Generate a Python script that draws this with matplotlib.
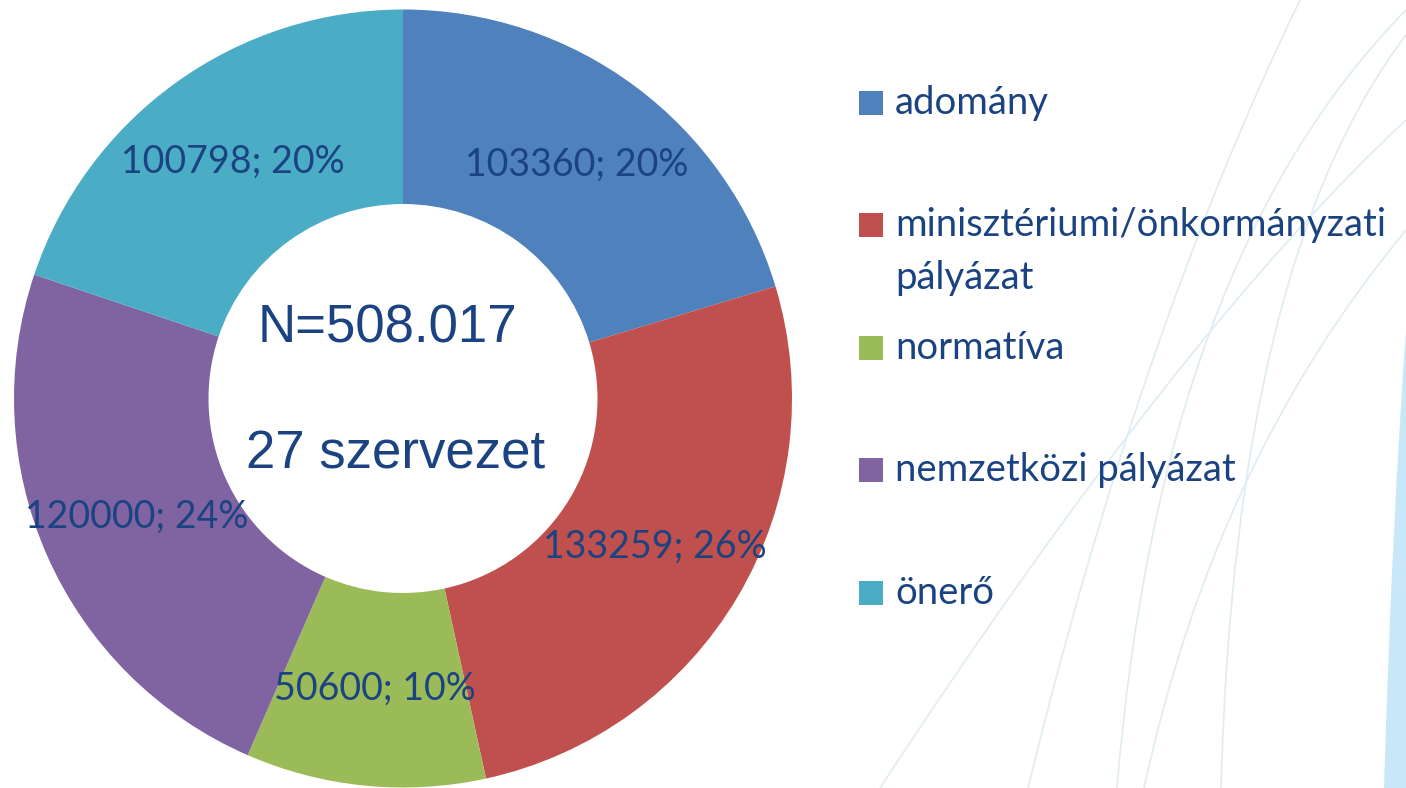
import numpy as np
import matplotlib.pyplot as plt
from matplotlib.patches import Rectangle, PathPatch
from matplotlib.path import Path

categories = ['adomány', 'minisztériumi/önkormányzati\npályázat', 'normatíva',
              'nemzetközi pályázat', 'önerő']
values = [103360, 133259, 50600, 120000, 100798]
percents = [20, 26, 10, 24, 20]
colors = ['#4F81BD', '#C0504D', '#9BBB59', '#8064A2', '#4BACC6']
center_lines = ['N=508.017', '27 szervezet']

txt_col = '#1B4382'
W, H = 1406, 788

fig = plt.figure(figsize=(W / 100, H / 100), dpi=100)
fig.patch.set_facecolor('white')

# decorative background curves (pixel coords, origin top-left)
bg = fig.add_axes([0, 0, 1, 1], zorder=0)
bg.set_xlim(0, W)
bg.set_ylim(H, 0)
bg.axis('off')
curves = [
    [(1300, 0), (1140, 330), (1028, 788)],
    [(1406, 10), (1160, 260), (1117, 788)],
    [(1406, 35), (1235, 260), (1221, 788)],
    [(1406, 230), (1215, 460), (1144, 788)],
    [(1406, 120), (1180, 330), (880, 788)],
]
for pts in curves:
    path = Path(pts, [Path.MOVETO, Path.CURVE3, Path.CURVE3])
    bg.add_patch(PathPatch(path, fill=False, edgecolor='#e1edf3', lw=1.3))
fill_path = Path([(1406, 330), (1392, 520), (1384, 788), (1406, 788), (1406, 330)],
                 [Path.MOVETO, Path.CURVE3, Path.CURVE3, Path.LINETO, Path.CLOSEPOLY])
bg.add_patch(PathPatch(fill_path, facecolor='#c8e7f8', edgecolor='none'))

# donut
cx, cy, R = 403, 398.5, 389
ax = fig.add_axes([(cx - R) / W, (H - cy - R) / H, 2 * R / W, 2 * R / H], zorder=1)
wedges, _ = ax.pie(values, colors=colors, startangle=90, counterclock=False,
                   radius=1, wedgeprops=dict(width=0.5, linewidth=0))
ax.set_xlim(-1, 1)
ax.set_ylim(-1, 1)
ax.patch.set_alpha(0)

for w, v, p in zip(wedges, values, percents):
    ang = np.deg2rad((w.theta1 + w.theta2) / 2)
    ax.text(0.75 * np.cos(ang), 0.75 * np.sin(ang), f'{v}; {p}%',
            ha='center', va='center', fontsize=27, family='Lato', color=txt_col)

ax.text(-0.039, 0.181, center_lines[0], ha='center', va='center', fontsize=38,
        family='Liberation Sans', color=txt_col)
ax.text(-0.018, -0.145, center_lines[1], ha='center', va='center', fontsize=38,
        family='Liberation Sans', color=txt_col)

# legend
leg_y = [103, 225, 348, 470, 593]
line_gap = 53
for lab, col, y in zip(categories, colors, leg_y):
    bg.add_patch(Rectangle((859, y - 12), 24, 24, facecolor=col, edgecolor='none'))
    for i, part in enumerate(lab.split('\n')):
        bg.text(895, y + i * line_gap, part, ha='left', va='center',
                fontsize=27.5, family='Lato', color=txt_col)

fig.savefig('out.png', dpi=100)
